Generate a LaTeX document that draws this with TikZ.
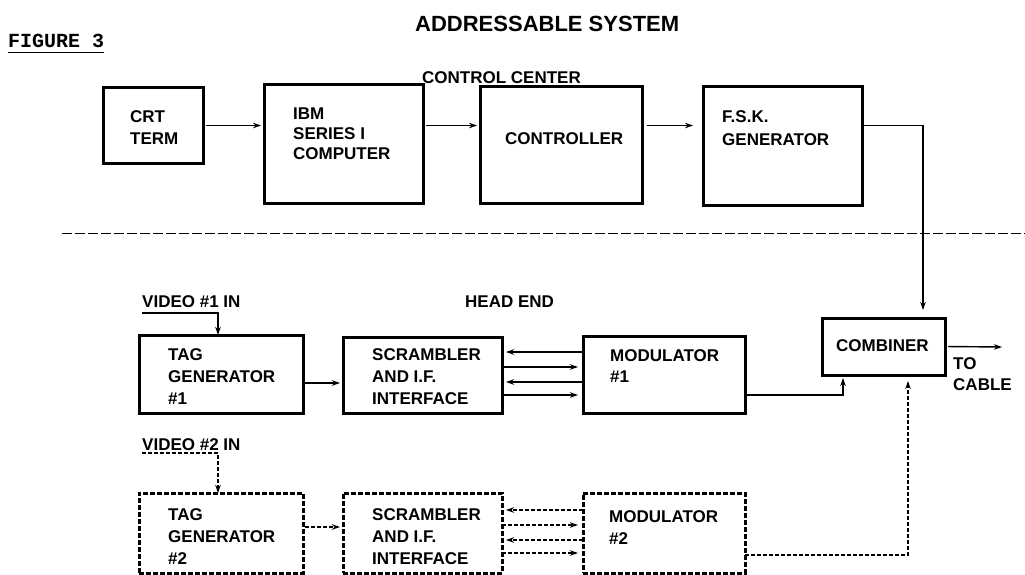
\documentclass[tikz,border=0pt]{standalone}
\usepackage{fontspec}
\setmainfont{Liberation Sans}
\newfontfamily\monofam{Liberation Mono}
\usetikzlibrary{arrows.meta,calc}
\begin{document}
\begin{tikzpicture}[x=1pt,y=-1pt,
  box/.style={draw,line width=3pt,inner sep=0pt,outer sep=0pt},
  dbox/.style={box,dash pattern=on 5pt off 2pt},
  lbl/.style={anchor=north west,inner sep=0pt,align=left,font=\fontsize{17}{22}\selectfont\bfseries},
  conn/.style={line width=1.4pt,-{Stealth[length=8pt,width=5.5pt]}},
  dconn/.style={conn,dash pattern=on 4pt off 2pt},
]
\useasboundingbox (0,0) rectangle (1025,575);

% titles
\node[anchor=base west,inner sep=0pt,font=\fontsize{22}{26}\selectfont\bfseries] (title) at (415,32) {ADDRESSABLE SYSTEM};
\node[anchor=base west,inner sep=0pt,font=\monofam\bfseries\fontsize{20}{22}\selectfont] (fig) at (8,48) {FIGURE 3};
\draw[line width=1.2pt] ([yshift=-4pt]fig.south west) -- ([yshift=-4pt]fig.south east);
\node[anchor=base west,inner sep=0pt,font=\fontsize{17}{20}\selectfont\bfseries] (cc) at (422,84) {CONTROL CENTER};

% control center boxes
\node[box,minimum width=100pt,minimum height=75pt] (crt) at (153,125.5) {};
\node[box,minimum width=159pt,minimum height=118pt] (ibm) at (343.5,144) {};
\node[box,minimum width=162pt,minimum height=116pt] (ctl) at (561,145) {};
\node[box,minimum width=159pt,minimum height=118pt] (fsk) at (782.5,146) {};

\node[lbl,font=\fontsize{17}{22}\selectfont\bfseries] (crtt) at (130,110) {CRT\\TERM};
\node[lbl,font=\fontsize{17}{20}\selectfont\bfseries] (ibmt) at (293,108) {IBM\\SERIES I\\COMPUTER};
\node[lbl] (ctlt) at (505,132) {CONTROLLER};
\node[lbl,font=\fontsize{17}{23}\selectfont\bfseries] (fskt) at (722,110) {F.S.K.\\GENERATOR};

\draw[conn,shorten <=3pt,shorten >=3pt] (crt.east) -- (ibm.west |- crt.east);
\draw[conn,shorten <=3pt,shorten >=3pt] (ibm.east |- crt.east) -- (ctl.west |- crt.east);
\draw[conn,shorten <=5pt,shorten >=10pt] (ctl.east |- crt.east) -- (fsk.west |- crt.east);

% divider
\coordinate (dl) at (62,233);
\coordinate (dr) at (1025,233);
\draw[line width=1pt,dash pattern=on 10pt off 3pt] (dl) -- (dr);

% head end labels
\node[anchor=base west,inner sep=0pt,font=\fontsize{17}{20}\selectfont\bfseries] (he) at (465,307) {HEAD END};
\node[anchor=base west,inner sep=0pt,font=\fontsize{17}{20}\selectfont\bfseries] (v1) at (142,307) {VIDEO \#1 IN};
\node[anchor=base west,inner sep=0pt,font=\fontsize{17}{20}\selectfont\bfseries] (v2) at (142,450) {VIDEO \#2 IN};

% row 1
\node[box,minimum width=164pt,minimum height=78pt] (tag1) at (221,374) {};
\node[box,minimum width=159pt,minimum height=76pt] (scr1) at (422.5,375) {};
\node[box,minimum width=162pt,minimum height=77pt] (mod1) at (664,374.5) {};
\node[box,minimum width=123pt,minimum height=57pt] (comb) at (883.5,346.5) {};

\node[lbl] (tag1t) at (168,348) {TAG\\GENERATOR\\\#1};
\node[lbl] (scr1t) at (372,348) {SCRAMBLER\\AND I.F.\\INTERFACE};
\node[lbl,font=\fontsize{17}{21}\selectfont\bfseries] (mod1t) at (610,349) {MODULATOR\\\#1};
\node[lbl] (combt) at (836,339) {COMBINER};
\node[lbl,font=\fontsize{17}{21}\selectfont\bfseries] (cab) at (953,357) {TO\\CABLE};

% row 2
\node[dbox,minimum width=164pt,minimum height=80pt] (tag2) at (221,533) {};
\node[dbox,minimum width=159pt,minimum height=80pt] (scr2) at (422.5,533) {};
\node[dbox,minimum width=162pt,minimum height=80pt] (mod2) at (664,533) {};

\node[lbl] (tag2t) at (168,508) {TAG\\GENERATOR\\\#2};
\node[lbl] (scr2t) at (372,508) {SCRAMBLER\\AND I.F.\\INTERFACE};
\node[lbl,font=\fontsize{17}{22}\selectfont\bfseries] (mod2t) at (609,510) {MODULATOR\\\#2};

% video inputs
\coordinate (v1s) at (142,313);
\coordinate (v2s) at (142,453);
\draw[conn] (v1s) -| ([xshift=-3pt]tag1.north);
\draw[dconn] (v2s) -| ([xshift=-3pt]tag2.north);

% tag -> scrambler
\coordinate (t1o) at ([yshift=-9pt]tag1.east);
\draw[conn,shorten <=2pt,shorten >=3pt] (t1o) -- (t1o -| scr1.west);
\coordinate (t2o) at ([yshift=6pt]tag2.east);
\draw[dconn,shorten <=2pt,shorten >=3pt] (t2o) -- (t2o -| scr2.west);

% scrambler <-> modulator
\foreach \dy/\dir in {23/a,8/b,-7/a,-20/b}{
  \coordinate (sa) at ([yshift=\dy pt]scr1.east);
  \coordinate (sb) at ([yshift=\dy pt]scr2.east);
  \if\dir a
    \draw[conn,shorten >=4pt] (sa -| mod1.west) -- (sa);
    \draw[dconn,shorten >=4pt] (sb -| mod2.west) -- (sb);
  \else
    \draw[conn,shorten >=5pt] (sa) -- (sa -| mod1.west);
    \draw[dconn,shorten >=5pt] (sb) -- (sb -| mod2.west);
  \fi
}

% to combiner
\draw[conn,shorten >=8pt] (fsk.east |- crt.east) -| ([xshift=39.5pt]comb.north);
\draw[conn,shorten >=3pt] ([yshift=-20.5pt]mod1.east) -| ([xshift=-40.5pt]comb.south);
\draw[dconn,shorten >=6pt] ([yshift=-22pt]mod2.east) -| ([xshift=24.5pt]comb.south);

% to cable
\coordinate (out) at (1002,347);
\draw[conn,shorten <=3pt] (comb.east) -- (out);
\end{tikzpicture}
\end{document}
